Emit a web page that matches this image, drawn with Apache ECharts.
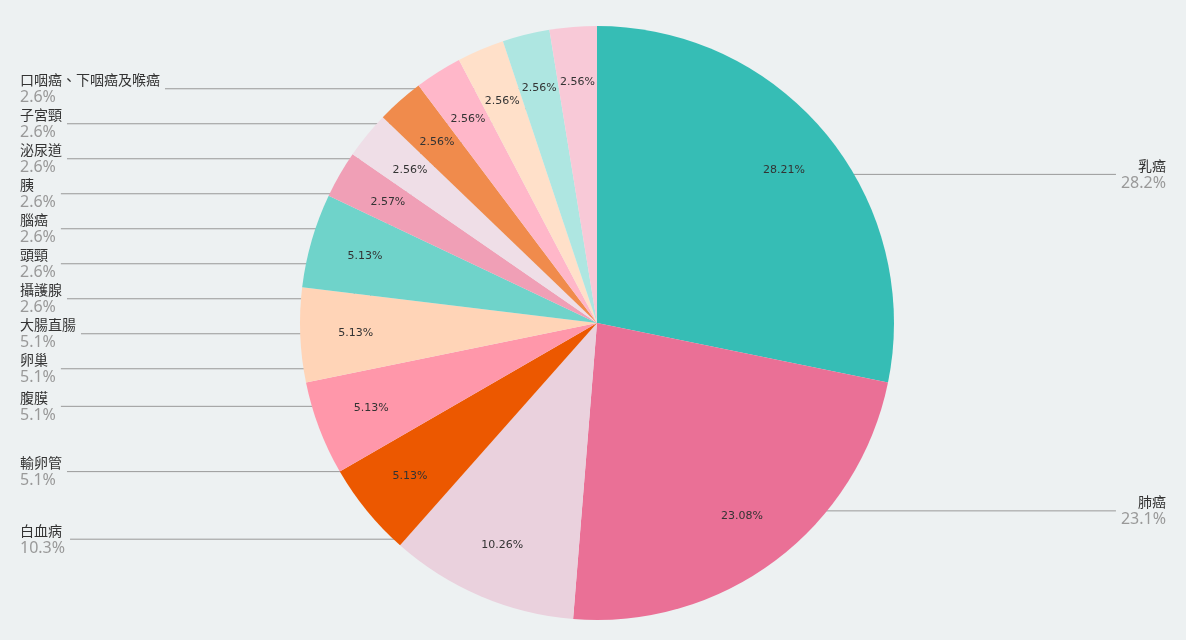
<!DOCTYPE html>
<html><head><meta charset="utf-8">
<script src="https://cdn.jsdelivr.net/npm/echarts@6/dist/echarts.min.js"></script>
<style>html,body{margin:0;background:#edf1f2}#c{width:1186px;height:640px}</style>
</head><body><div id="c"></div>
<script>
// cancer types, clockwise from 12 o'clock
const names = ['乳癌', '肺癌', '白血病', '輸卵管', '腹膜', '卵巢', '大腸直腸', '攝護腺', '頭頸', '腦癌', '胰', '泌尿道', '子宮頸', '口咽癌、下咽癌及喉癌'];
const counts = [11, 9, 4, 2, 2, 2, 2, 1, 1, 1, 1, 1, 1, 1];
const colors = ['#36bdb5', '#ea7096', '#ead1dd', '#ec5800', '#ff97aa', '#ffd4b7', '#6fd3ca', '#f09fb6', '#efdee7', '#f08b4c', '#ffb7c9', '#ffe0c9', '#aee6e1', '#f8c9d7'];

const data = names.map((n, i) => ({ name: n, value: counts[i], itemStyle: { color: colors[i] } }));
const ghost = names.map((n, i) => ({ name: n, value: counts[i] }));
const center = [597, 323];

const chart = echarts.init(document.getElementById('c'));
chart.setOption({
    backgroundColor: '#edf1f2',
    animation: false,
    series: [
        {
            type: 'pie', center, radius: [0, 297], startAngle: 90, clockwise: true,
            data, label: { show: false }, labelLine: { show: false },
            itemStyle: { borderColor: '#fff', borderWidth: 0 }
        },
        {
            // percentage labels inside slices
            type: 'pie', center, radius: [180, 297], startAngle: 90, silent: true,
            data: ghost, itemStyle: { color: 'transparent' },
            label: { position: 'inside', formatter: '{d}%', color: '#333', fontSize: 11, fontFamily: 'DejaVu Sans' },
            labelLine: { show: false }
        },
        {
            // outer name labels with leader lines
            type: 'pie', center, radius: [0, 225], startAngle: 90, silent: true,
            data: ghost, itemStyle: { color: 'transparent' },
            label: {
                position: 'outer', alignTo: 'edge', edgeDistance: 20, bleedMargin: 0,
                formatter: p => '{n|' + p.name + '}\n{p|' + p.percent.toFixed(1) + '%}',
                rich: {
                    n: { fontSize: 14, color: '#333', fontFamily: 'Noto Sans CJK TC', lineHeight: 18 },
                    p: { fontSize: 16, color: '#999', fontFamily: 'Noto Sans', lineHeight: 18 }
                }
            },
            labelLine: { show: true, length: 10, length2: 10, lineStyle: { color: '#999', width: 1 } },
            labelLayout: { hideOverlap: false }
        }
    ]
});
</script></body></html>
